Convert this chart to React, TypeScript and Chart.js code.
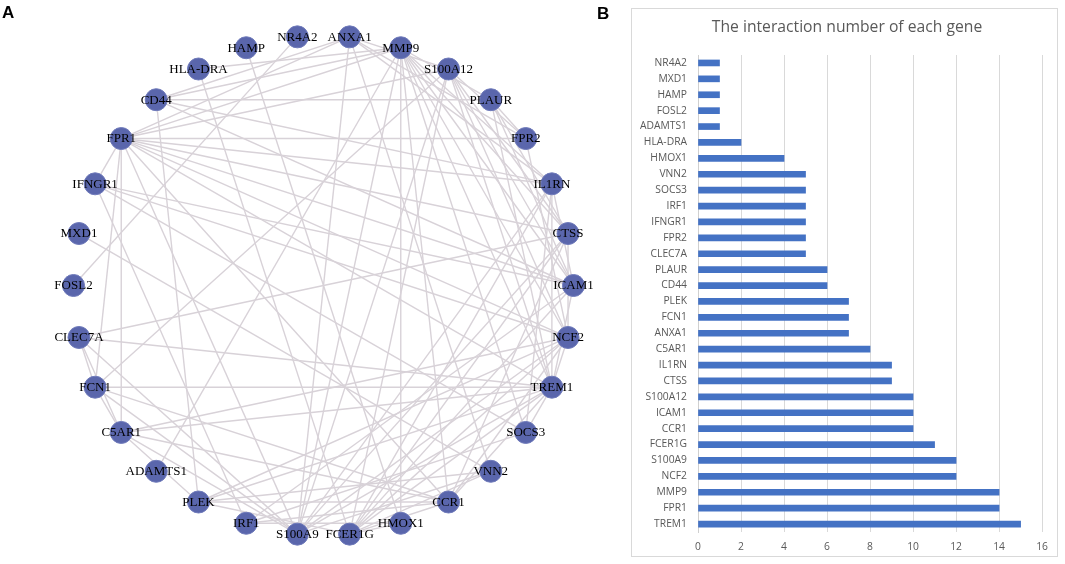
import React, { useEffect, useRef } from "react";
import { Chart, registerables } from "chart.js";

Chart.register(...registerables);

// ---------- Panel A: network (nodes in circular order, clockwise from top) ----------
const networkGenes = [
  "ANXA1", "MMP9", "S100A12", "PLAUR", "FPR2", "IL1RN", "CTSS", "ICAM1", "NCF2", "TREM1",
  "SOCS3", "VNN2", "CCR1", "HMOX1", "FCER1G", "S100A9", "IRF1", "PLEK", "ADAMTS1", "C5AR1",
  "FCN1", "CLEC7A", "FOSL2", "MXD1", "IFNGR1", "FPR1", "CD44", "HLA-DRA", "HAMP", "NR4A2",
];

const networkEdges: [string, string][] = [
  ["NR4A2", "FOSL2"], ["HAMP", "HMOX1"], ["ADAMTS1", "MMP9"], ["MXD1", "VNN2"],
  ["HLA-DRA", "FCER1G"], ["HLA-DRA", "MMP9"],
  ["CLEC7A", "FCN1"], ["CLEC7A", "C5AR1"], ["CLEC7A", "CTSS"], ["CLEC7A", "TREM1"], ["CLEC7A", "S100A9"],
  ["FCN1", "C5AR1"], ["FCN1", "TREM1"], ["FCN1", "FPR1"], ["FCN1", "CCR1"], ["FCN1", "S100A12"], ["FCN1", "S100A9"],
  ["C5AR1", "FPR1"], ["C5AR1", "NCF2"], ["C5AR1", "TREM1"], ["C5AR1", "PLEK"], ["C5AR1", "CCR1"], ["C5AR1", "S100A9"],
  ["FPR1", "FPR2"], ["FPR1", "ANXA1"], ["FPR1", "IFNGR1"], ["FPR1", "NCF2"], ["FPR1", "TREM1"], ["FPR1", "IL1RN"],
  ["FPR1", "S100A12"], ["FPR1", "MMP9"], ["FPR1", "CCR1"], ["FPR1", "S100A9"], ["FPR1", "ICAM1"], ["FPR1", "CTSS"],
  ["IFNGR1", "IRF1"], ["IFNGR1", "SOCS3"], ["IFNGR1", "ICAM1"], ["IFNGR1", "NCF2"],
  ["CD44", "PLAUR"], ["CD44", "ANXA1"], ["CD44", "MMP9"], ["CD44", "ICAM1"], ["CD44", "IL1RN"], ["CD44", "PLEK"],
  ["ANXA1", "FPR2"], ["ANXA1", "S100A9"], ["ANXA1", "IL1RN"], ["ANXA1", "VNN2"], ["ANXA1", "S100A12"],
  ["MMP9", "PLAUR"], ["MMP9", "IL1RN"], ["MMP9", "CTSS"], ["MMP9", "ICAM1"], ["MMP9", "NCF2"], ["MMP9", "TREM1"],
  ["MMP9", "SOCS3"], ["MMP9", "CCR1"], ["MMP9", "HMOX1"], ["MMP9", "S100A9"],
  ["S100A12", "FPR2"], ["S100A12", "TREM1"], ["S100A12", "NCF2"], ["S100A12", "S100A9"], ["S100A12", "FCER1G"],
  ["S100A12", "CTSS"], ["S100A12", "ICAM1"],
  ["PLAUR", "FPR2"], ["PLAUR", "ICAM1"], ["PLAUR", "TREM1"], ["PLAUR", "CTSS"],
  ["FPR2", "NCF2"],
  ["IL1RN", "ICAM1"], ["IL1RN", "TREM1"], ["IL1RN", "S100A9"], ["IL1RN", "FCER1G"], ["IL1RN", "SOCS3"],
  ["CTSS", "NCF2"], ["CTSS", "FCER1G"], ["CTSS", "CCR1"], ["CTSS", "S100A9"],
  ["ICAM1", "TREM1"], ["ICAM1", "IRF1"], ["ICAM1", "FCER1G"],
  ["NCF2", "TREM1"], ["NCF2", "CCR1"], ["NCF2", "FCER1G"], ["NCF2", "S100A9"], ["NCF2", "PLEK"],
  ["TREM1", "SOCS3"], ["TREM1", "CCR1"], ["TREM1", "FCER1G"], ["TREM1", "S100A9"], ["TREM1", "PLEK"],
  ["SOCS3", "IRF1"],
  ["VNN2", "S100A9"], ["VNN2", "FCER1G"], ["VNN2", "PLEK"],
  ["CCR1", "PLEK"], ["CCR1", "FCER1G"], ["CCR1", "IRF1"],
  ["HMOX1", "IRF1"], ["HMOX1", "FCER1G"],
  ["FCER1G", "PLEK"],
];

// ---------- Panel B: interaction number of each gene ----------
const barGenes = [
  "NR4A2", "MXD1", "HAMP", "FOSL2", "ADAMTS1", "HLA-DRA", "HMOX1", "VNN2", "SOCS3", "IRF1",
  "IFNGR1", "FPR2", "CLEC7A", "PLAUR", "CD44", "PLEK", "FCN1", "ANXA1", "C5AR1", "IL1RN",
  "CTSS", "S100A12", "ICAM1", "CCR1", "FCER1G", "S100A9", "NCF2", "MMP9", "FPR1", "TREM1",
];
const barValues = [
  1, 1, 1, 1, 1, 2, 4, 5, 5, 5,
  5, 5, 5, 6, 6, 7, 7, 7, 8, 9,
  9, 10, 10, 10, 11, 12, 12, 14, 14, 15,
];
const xAxisMin = 0;
const xAxisMax = 16;
const xAxisStep = 2;
const barTitle = "The interaction number of each gene";

// circular layout (unit circle), first node half a step right of top
const angleStep = 360 / networkGenes.length;
const nodePoints = networkGenes.map((_, i) => {
  const a = ((angleStep / 2 + i * angleStep) * Math.PI) / 180;
  return { x: Math.sin(a), y: Math.cos(a) };
});
const nodeIndex: Record<string, number> = {};
networkGenes.forEach((g, i) => (nodeIndex[g] = i));

const NET_W = 640;
const NET_H = 564;
const NET_CX = 323.5;
const NET_CY = 285.5;
const NET_R = 250;

function NetworkChart() {
  const ref = useRef<HTMLCanvasElement | null>(null);
  useEffect(() => {
    if (!ref.current) return;
    const edgePlugin = {
      id: "edgePlugin",
      beforeDatasetsDraw(chart: any) {
        const { ctx, scales } = chart;
        const sx = scales.x;
        const sy = scales.y;
        ctx.save();
        ctx.strokeStyle = "#d8d2d8";
        ctx.lineWidth = 1.4;
        for (const [a, b] of networkEdges) {
          const pa = nodePoints[nodeIndex[a]];
          const pb = nodePoints[nodeIndex[b]];
          ctx.beginPath();
          ctx.moveTo(sx.getPixelForValue(pa.x), sy.getPixelForValue(pa.y));
          ctx.lineTo(sx.getPixelForValue(pb.x), sy.getPixelForValue(pb.y));
          ctx.stroke();
        }
        ctx.restore();
      },
    };
    const labelPlugin = {
      id: "labelPlugin",
      afterDatasetsDraw(chart: any) {
        const { ctx } = chart;
        const meta = chart.getDatasetMeta(0);
        ctx.save();
        ctx.fillStyle = "#000000";
        ctx.font = '13px "Liberation Serif", "Times New Roman", serif';
        ctx.textAlign = "center";
        ctx.textBaseline = "middle";
        meta.data.forEach((el: any, i: number) => {
          ctx.fillText(networkGenes[i], el.x, el.y + 0.5);
        });
        ctx.restore();
      },
    };
    const chart = new Chart(ref.current, {
      type: "scatter",
      data: {
        datasets: [
          {
            data: nodePoints,
            pointRadius: 11,
            pointBackgroundColor: "#5a66ac",
            pointBorderColor: "#6f7aba",
            pointBorderWidth: 1,
            showLine: false,
          },
        ],
      },
      options: {
        responsive: false,
        animation: false,
        events: [],
        layout: { padding: 0, autoPadding: false },
        plugins: { legend: { display: false }, tooltip: { enabled: false } },
        scales: {
          x: {
            type: "linear",
            display: false,
            min: -NET_CX / NET_R,
            max: (NET_W - NET_CX) / NET_R,
          },
          y: {
            type: "linear",
            display: false,
            min: -(NET_H - NET_CY) / NET_R,
            max: NET_CY / NET_R,
          },
        },
      } as any,
      plugins: [edgePlugin, labelPlugin],
    });
    return () => chart.destroy();
  }, []);
  return (
    <canvas
      ref={ref}
      width={NET_W}
      height={NET_H}
      style={{ position: "absolute", left: 0, top: 0, width: NET_W, height: NET_H }}
    />
  );
}

const BOX_L = 631;
const BOX_T = 8;
const BOX_W = 427;
const BOX_H = 549;
const TITLE_CX = 215;
const TITLE_CY = 19;

function BarChart() {
  const ref = useRef<HTMLCanvasElement | null>(null);
  useEffect(() => {
    if (!ref.current) return;
    const tickFont = { family: '"Open Sans", "Liberation Sans", sans-serif', size: 10.3 };
    const titlePlugin = {
      id: "boxTitle",
      afterDraw(chart: any) {
        const { ctx } = chart;
        ctx.save();
        ctx.fillStyle = "#595959";
        ctx.font = '15.7px "Open Sans", "Liberation Sans", sans-serif';
        ctx.textAlign = "center";
        ctx.textBaseline = "middle";
        ctx.fillText(barTitle, TITLE_CX, TITLE_CY);
        ctx.restore();
      },
    };
    const chart = new Chart(ref.current, {
      type: "bar",
      data: {
        labels: barGenes,
        datasets: [
          {
            data: barValues,
            backgroundColor: "#4472c4",
            borderWidth: 0,
            barThickness: 6,
          },
        ],
      },
      options: {
        indexAxis: "y",
        responsive: false,
        animation: false,
        events: [],
        layout: { padding: { left: 0, right: 14, top: 46, bottom: 0 } },
        plugins: {
          legend: { display: false },
          tooltip: { enabled: false },
          title: { display: false },
        },
        scales: {
          x: {
            min: xAxisMin,
            max: xAxisMax,
            ticks: { stepSize: xAxisStep, color: "#595959", font: tickFont, padding: 9 },
            grid: { color: "#d9d9d9", drawTicks: false },
            border: { display: false },
            afterFit: (s: any) => {
              s.height = 24;
            },
          },
          y: {
            ticks: { color: "#595959", font: tickFont, padding: 11, autoSkip: false },
            grid: { display: false, drawTicks: false },
            border: { display: true, color: "#d0d0d0", width: 1 },
            afterFit: (s: any) => {
              s.width = 66;
            },
          },
        },
      } as any,
      plugins: [titlePlugin],
    });
    return () => chart.destroy();
  }, []);
  return (
    <div
      style={{
        position: "absolute",
        left: BOX_L,
        top: BOX_T,
        width: BOX_W,
        height: BOX_H,
        border: "1px solid #d9d9d9",
        boxSizing: "border-box",
        background: "#ffffff",
      }}
    >
      <canvas
        ref={ref}
        width={BOX_W - 2}
        height={BOX_H - 2}
        style={{ position: "absolute", left: 0, top: 0, width: BOX_W - 2, height: BOX_H - 2 }}
      />
    </div>
  );
}

const panelLabelStyle: React.CSSProperties = {
  position: "absolute",
  fontFamily: '"Liberation Sans", Arial, sans-serif',
  fontWeight: "bold",
  fontSize: 17,
  lineHeight: "17px",
  color: "#000000",
};

export default function App() {
  return (
    <div
      style={{
        position: "absolute",
        left: 0,
        top: 0,
        width: 1065,
        height: 564,
        background: "#ffffff",
        overflow: "hidden",
      }}
    >
      <NetworkChart />
      <BarChart />
      <div style={{ ...panelLabelStyle, left: 2, top: 4 }}>A</div>
      <div style={{ ...panelLabelStyle, left: 597, top: 5 }}>B</div>
    </div>
  );
}
